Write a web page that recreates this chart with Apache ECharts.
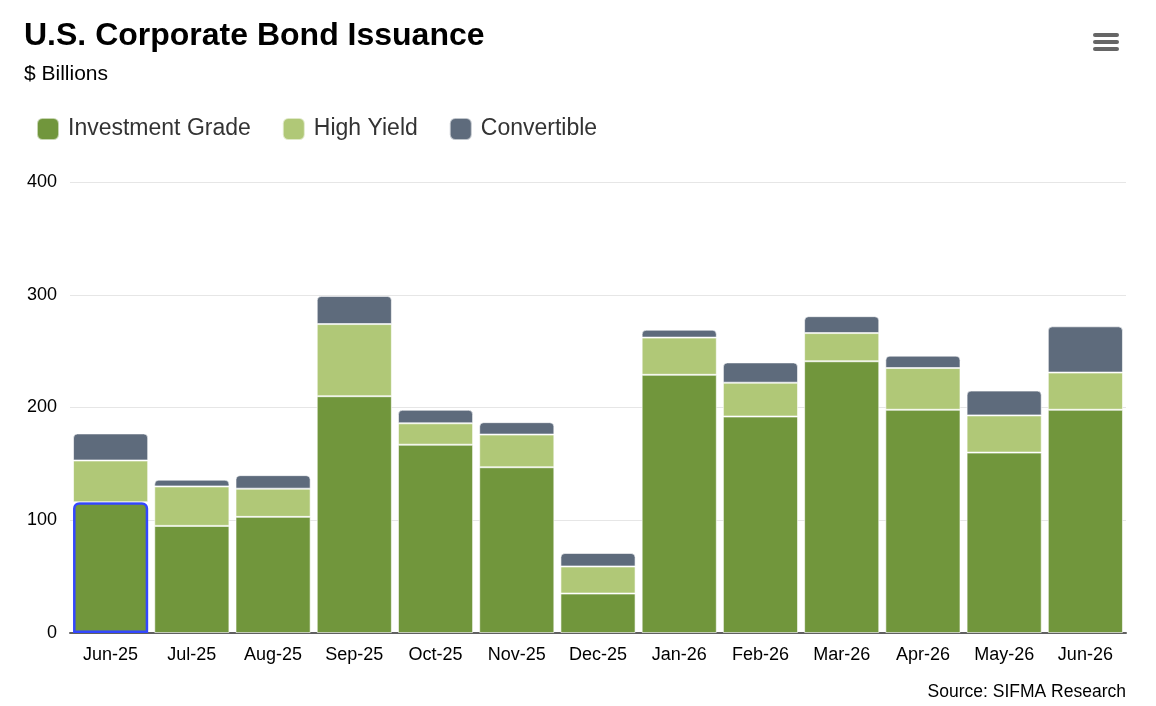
<!DOCTYPE html>
<html>
<head>
<meta charset="utf-8">
<title>U.S. Corporate Bond Issuance</title>
<script src="https://cdn.jsdelivr.net/npm/echarts@6/dist/echarts.min.js"></script>
<style>
  html, body { margin: 0; padding: 0; background: #fff; }
  #main { width: 1156px; height: 706px; }
</style>
</head>
<body>
<div id="main"></div>
<script>
// months on the x axis
var months = ['Jun-25', 'Jul-25', 'Aug-25', 'Sep-25', 'Oct-25', 'Nov-25', 'Dec-25',
              'Jan-26', 'Feb-26', 'Mar-26', 'Apr-26', 'May-26', 'Jun-26'];
// $ billions
var investmentGrade = [116, 95, 103, 210, 167, 147, 35, 229, 192, 241, 198, 160, 198];
var highYield       = [37, 35, 25, 64, 19, 29, 24, 33, 30, 25, 37, 33, 33];
var convertible     = [24, 6, 12, 25, 12, 11, 12, 7, 18, 15, 11, 22, 41];
var yTicks = [0, 100, 200, 300, 400];

var font = 'Liberation Sans, Arial, sans-serif';
var myChart = echarts.init(document.getElementById('main'));

// first bar is shown with the hover outline, as in the screenshot
var igData = investmentGrade.map(function (v, i) {
    if (i === 0) {
        return { value: v, itemStyle: { borderColor: '#3347ff', borderWidth: 2.5, borderRadius: [5, 5, 0, 0] } };
    }
    return v;
});

var option = {
    backgroundColor: '#fff',
    animation: false,
    title: [
        { text: 'U.S. Corporate Bond Issuance', left: 19, top: 15,
          textStyle: { fontFamily: font, fontSize: 32, fontWeight: 'bold', color: '#000' } },
        { text: '$ Billions', left: 19, top: 59,
          textStyle: { fontFamily: font, fontSize: 21, fontWeight: 'normal', color: '#000' } },
        { text: 'Source: SIFMA Research', right: 25, top: 678,
          textStyle: { fontFamily: font, fontSize: 17.5, fontWeight: 'normal', color: '#000' } }
    ],
    legend: {
        left: 31, top: 112,
        icon: 'roundRect',
        itemWidth: 22, itemHeight: 22,
        itemGap: 31,
        textStyle: { fontFamily: font, fontSize: 23, color: '#333', padding: [0, 0, 0, 4] },
        data: ['Investment Grade', 'High Yield', 'Convertible']
    },
    grid: { left: 70, right: 30, top: 182, bottom: 73 },
    xAxis: {
        type: 'category',
        data: months,
        axisTick: { show: false },
        axisLine: { lineStyle: { color: '#606060', width: 2 } },
        axisLabel: { fontFamily: font, fontSize: 18, color: '#000', margin: 13 }
    },
    yAxis: {
        type: 'value',
        min: yTicks[0], max: yTicks[yTicks.length - 1], interval: 100,
        axisLine: { show: false },
        axisTick: { show: false },
        axisLabel: { fontFamily: font, fontSize: 18, color: '#000', margin: 13 },
        splitLine: { lineStyle: { color: '#e6e6e6', width: 1 } }
    },
    series: [
        { name: 'Investment Grade', type: 'bar', stack: 'all', data: igData,
          barCategoryGap: '7.5%',
          itemStyle: { color: '#71963c', borderColor: 'rgba(255,255,255,0.6)', borderWidth: 1 } },
        { name: 'High Yield', type: 'bar', stack: 'all', data: highYield,
          itemStyle: { color: '#b0c877', borderColor: 'rgba(255,255,255,0.6)', borderWidth: 1 } },
        { name: 'Convertible', type: 'bar', stack: 'all', data: convertible,
          itemStyle: { color: '#5e6b7c', borderColor: 'rgba(255,255,255,0.6)', borderWidth: 1, borderRadius: [4, 4, 0, 0] } }
    ],
    // menu icon, top right
    graphic: [
        { type: 'rect', left: 1093, top: 33, shape: { width: 26, height: 4, r: 2 }, style: { fill: '#666' } },
        { type: 'rect', left: 1093, top: 40, shape: { width: 26, height: 4, r: 2 }, style: { fill: '#666' } },
        { type: 'rect', left: 1093, top: 47, shape: { width: 26, height: 4, r: 2 }, style: { fill: '#666' } }
    ]
};

myChart.setOption(option);
</script>
</body>
</html>
